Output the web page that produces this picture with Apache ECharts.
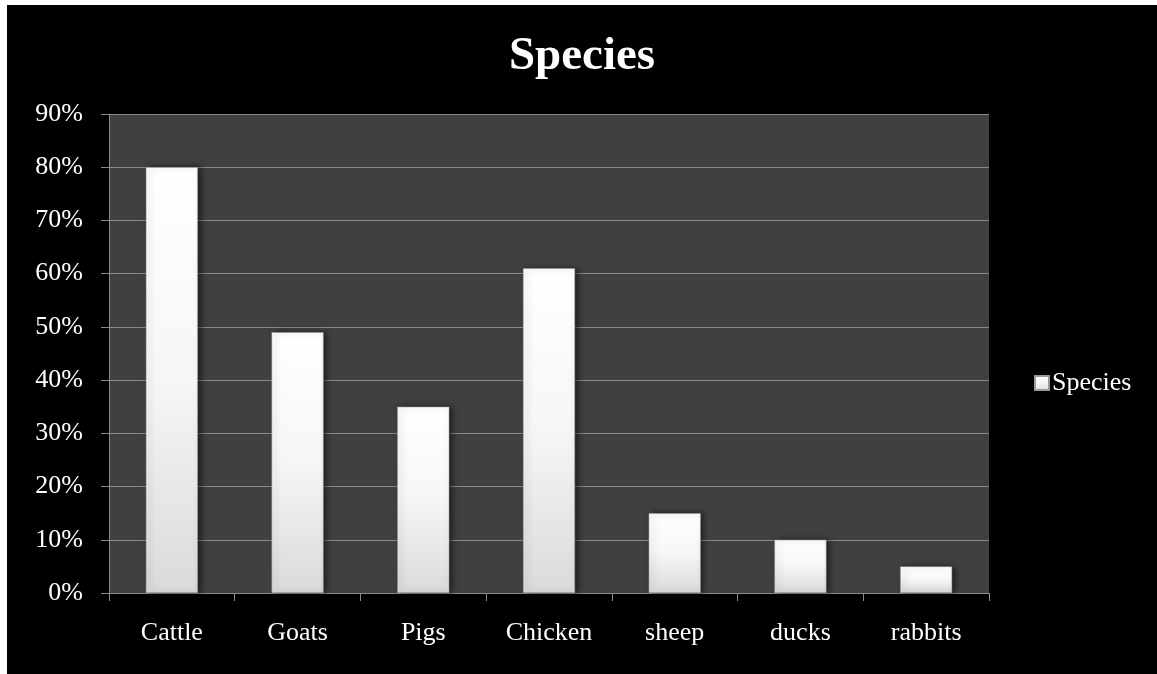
<!DOCTYPE html>
<html>
<head>
<meta charset="utf-8">
<script src="https://cdn.jsdelivr.net/npm/echarts@6/dist/echarts.min.js"></script>
<style>
html,body{margin:0;padding:0;background:#000000;width:1157px;height:674px;overflow:hidden;}
#chart{position:absolute;left:7px;top:5px;width:1150px;height:680px;background:#000000;}
#edgeTop{position:absolute;left:0;top:0;width:1157px;height:5px;background:#ffffff;}
#edgeLeft{position:absolute;left:0;top:0;width:7px;height:700px;background:#ffffff;}
</style>
</head>
<body>
<div id="edgeTop"></div>
<div id="edgeLeft"></div>
<div id="chart"></div>
<script>
var titleText = 'Species';
var seriesName = 'Species';
var categories = ['Cattle', 'Goats', 'Pigs', 'Chicken', 'sheep', 'ducks', 'rabbits'];
var values = [0.80, 0.49, 0.35, 0.61, 0.15, 0.10, 0.05];
var yMin = 0, yMax = 0.9, yStep = 0.1;

var chart = echarts.init(document.getElementById('chart'));
var font = '"Liberation Serif", "Times New Roman", serif';
var barGrad = new echarts.graphic.LinearGradient(0, 0, 0, 1, [
  {offset: 0, color: '#ffffff'},
  {offset: 0.5, color: '#f6f6f6'},
  {offset: 1, color: '#dadada'}
]);
chart.setOption({
  backgroundColor: '#000000',
  animation: false,
  title: {
    text: titleText,
    left: 'center',
    top: 23,
    textStyle: {color: '#ffffff', fontFamily: font, fontWeight: 'bold', fontSize: 47}
  },
  legend: {
    data: [seriesName],
    left: 1022,
    top: 360,
    itemWidth: 14,
    itemHeight: 14,
    itemGap: 4,
    icon: 'rect',
    textStyle: {color: '#ffffff', fontFamily: font, fontSize: 26, padding: [0,0,0,-2]}
  },
  grid: {
    left: 102, top: 109, width: 880, height: 479,
    show: true, backgroundColor: '#404040', borderWidth: 0,
    containLabel: false
  },
  xAxis: {
    type: 'category',
    data: categories,
    axisLine: {show: true, lineStyle: {color: '#8a8a8a', width: 1}},
    axisTick: {show: true, alignWithLabel: false, length: 8, lineStyle: {color: '#8a8a8a'}},
    axisLabel: {color: '#ffffff', fontFamily: font, fontSize: 26, margin: 27},
    splitLine: {show: false}
  },
  yAxis: {
    type: 'value',
    min: yMin, max: yMax, interval: yStep,
    axisLine: {show: true, lineStyle: {color: '#8a8a8a', width: 1}},
    axisTick: {show: true, length: 8, lineStyle: {color: '#8a8a8a'}},
    axisLabel: {
      color: '#ffffff', fontFamily: font, fontSize: 26, margin: 26,
      formatter: function (v) { return Math.round(v * 100) + '%'; }
    },
    splitLine: {show: true, lineStyle: {color: '#8a8a8a', width: 1}}
  },
  series: [{
    name: seriesName,
    type: 'bar',
    data: values,
    barWidth: 52,
    itemStyle: {
      color: barGrad,
      borderColor: '#9a9a9a',
      borderWidth: 0.5,
      shadowColor: 'rgba(0,0,0,0.55)',
      shadowBlur: 6,
      shadowOffsetX: 3,
      shadowOffsetY: 0
    }
  }]
});
</script>
</body>
</html>
